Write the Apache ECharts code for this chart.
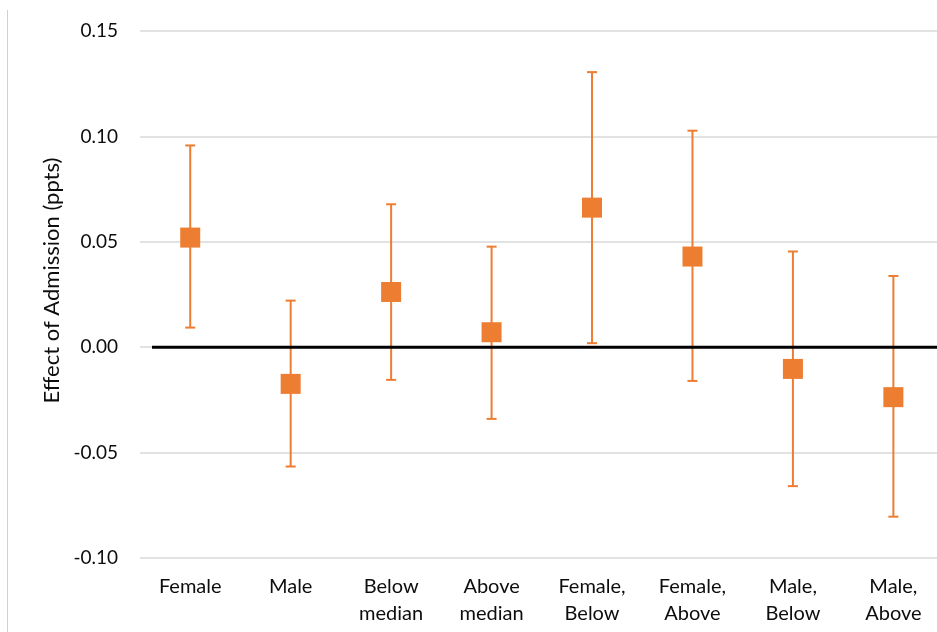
<!DOCTYPE html>
<html>
<head>
<meta charset="utf-8">
<script src="https://cdn.jsdelivr.net/npm/echarts@6/dist/echarts.min.js"></script>
<style>
  html, body { margin: 0; padding: 0; background: #fff; }
  #chart { width: 937px; height: 632px; }
</style>
</head>
<body>
<div id="chart"></div>
<script>
// Subgroup estimates with 95% confidence intervals
const categories = ['Female', 'Male', 'Below\nmedian', 'Above\nmedian',
                    'Female,\nBelow', 'Female,\nAbove', 'Male,\nBelow', 'Male,\nAbove'];
const estimates = [0.052, -0.0174, 0.0262, 0.0071, 0.0662, 0.043, -0.0103, -0.0237];
const lowerCI   = [0.0093, -0.0566, -0.0155, -0.034, 0.0019, -0.016, -0.0659, -0.0804];
const upperCI   = [0.0957, 0.0221, 0.0678, 0.0477, 0.1305, 0.1027, 0.0454, 0.0338];

const orange = '#ED7D31';
const textColor = '#0d0d0d';
const fontFamily = 'Lato, "Open Sans", sans-serif';

const chart = echarts.init(document.getElementById('chart'), null, { renderer: 'canvas' });

const errorData = categories.map((c, i) => [i, lowerCI[i], upperCI[i]]);

chart.setOption({
  animation: false,
  backgroundColor: '#fff',
  textStyle: { fontFamily: fontFamily, color: textColor },
  grid: { left: 140, top: 31, width: 803.6, height: 527, containLabel: false, outerBoundsMode: 'none' },
  xAxis: {
    type: 'category',
    data: categories,
    boundaryGap: true,
    axisLine: { show: false },
    axisTick: { show: false },
    axisLabel: {
      interval: 0,
      margin: 15,
      fontSize: 20,
      lineHeight: 27,
      color: textColor,
      fontFamily: fontFamily
    }
  },
  yAxis: {
    type: 'value',
    min: -0.10,
    max: 0.15,
    interval: 0.05,
    name: 'Effect of Admission (ppts)',
    nameLocation: 'middle',
    nameGap: 76,
    nameRotate: 90,
    nameTextStyle: { fontSize: 22, color: textColor, fontFamily: fontFamily, padding: [0, 0, 0, 28] },
    axisLine: { show: false },
    axisTick: { show: false },
    splitLine: { lineStyle: { color: '#d9d9d9', width: 1.5 } },
    axisLabel: {
      margin: 22,
      fontSize: 19,
      color: textColor,
      fontFamily: fontFamily,
      formatter: v => v.toFixed(2)
    }
  },
  series: [
    {
      // confidence interval whiskers with caps
      type: 'custom',
      z: 2,
      data: errorData,
      encode: { x: 0, y: [1, 2] },
      renderItem: function (params, api) {
        const i = api.value(0);
        const lo = api.coord([i, api.value(1)]);
        const hi = api.coord([i, api.value(2)]);
        const half = 5;
        const st = { stroke: orange, lineWidth: 2 };
        return {
          type: 'group',
          children: [
            { type: 'line', shape: { x1: lo[0], y1: lo[1], x2: hi[0], y2: hi[1] }, style: st },
            { type: 'line', shape: { x1: hi[0] - half, y1: hi[1], x2: hi[0] + half, y2: hi[1] }, style: st },
            { type: 'line', shape: { x1: lo[0] - half, y1: lo[1], x2: lo[0] + half, y2: lo[1] }, style: st }
          ]
        };
      }
    },
    {
      // point estimates
      type: 'scatter',
      z: 4,
      data: estimates,
      symbol: 'rect',
      symbolSize: 20,
      itemStyle: { color: orange, opacity: 1 }
    }
  ]
});

// Zero reference line and the chart-area border on the left
const zeroY = chart.convertToPixel({ yAxisIndex: 0 }, 0);
chart.setOption({
  graphic: [
    {
      type: 'line',
      z: 3,
      shape: { x1: 152, y1: zeroY, x2: 937, y2: zeroY },
      style: { stroke: '#000', lineWidth: 3 }
    },
    {
      type: 'line',
      shape: { x1: 7.5, y1: 10, x2: 7.5, y2: 632 },
      style: { stroke: '#d0d0d0', lineWidth: 1 }
    }
  ]
});
</script>
</body>
</html>
